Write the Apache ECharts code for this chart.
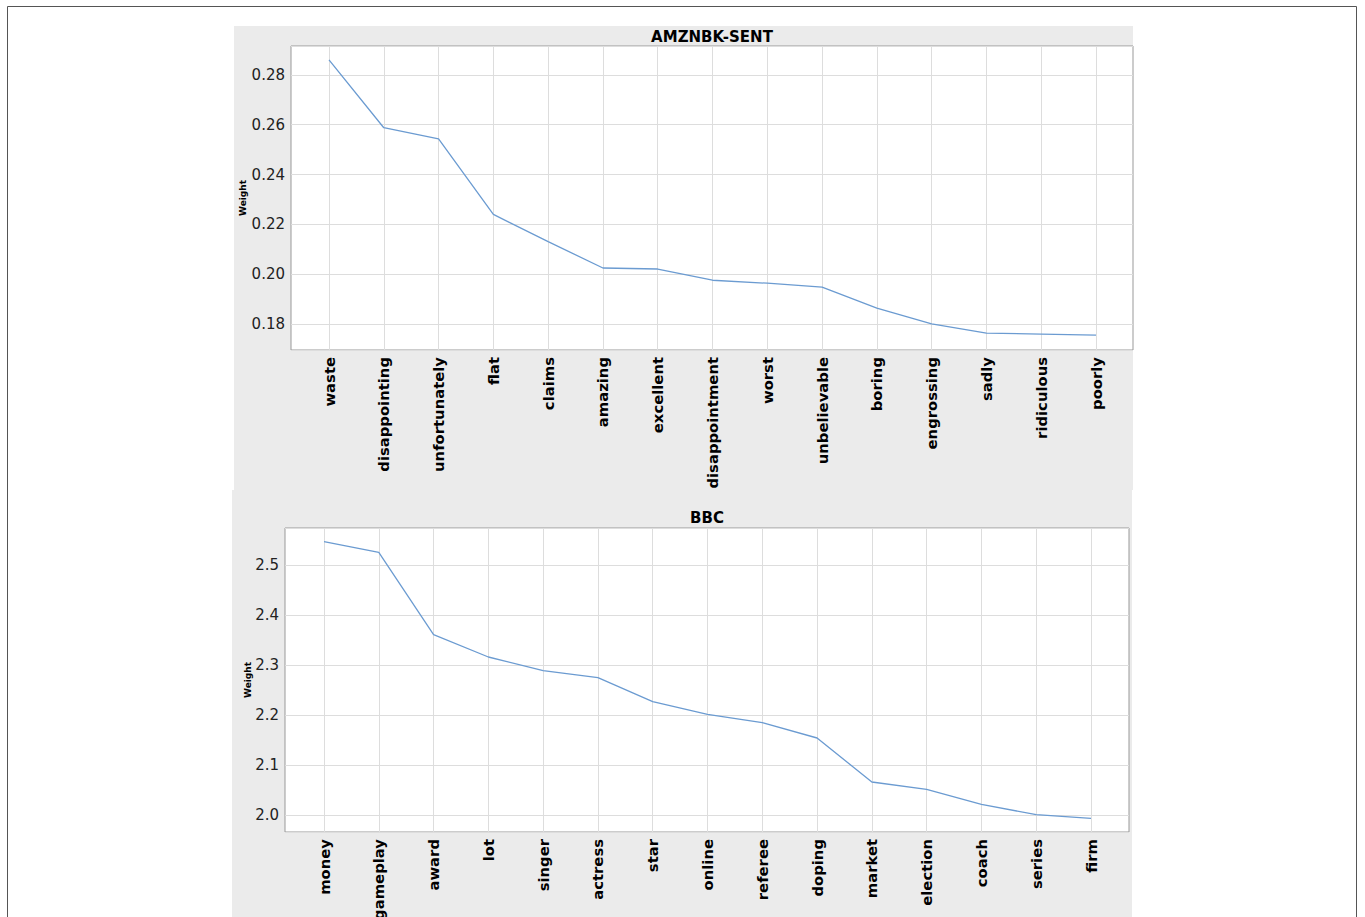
<!DOCTYPE html>
<html>
<head>
<meta charset="utf-8">
<script src="https://cdn.jsdelivr.net/npm/echarts@6/dist/echarts.min.js"></script>
<style>
html,body{margin:0;padding:0;background:#fff;}
#chart{width:1365px;height:917px;}
</style>
</head>
<body>
<div id="chart"></div>
<script>
// ---- data ----
const titleTop = 'AMZNBK-SENT';
const catsTop = ['waste','disappointing','unfortunately','flat','claims','amazing','excellent','disappointment','worst','unbelievable','boring','engrossing','sadly','ridiculous','poorly'];
const valsTop = [0.2860,0.2588,0.2543,0.2240,0.2131,0.2025,0.2021,0.1976,0.1964,0.1948,0.1864,0.1801,0.1764,0.1760,0.1756];
const yRangeTop = [0.1696, 0.2916];

const titleBottom = 'BBC';
const catsBottom = ['money','gameplay','award','lot','singer','actress','star','online','referee','doping','market','election','coach','series','firm'];
const valsBottom = [2.5467,2.5254,2.3607,2.3160,2.2887,2.2747,2.2267,2.2013,2.1847,2.1540,2.0660,2.0513,2.0213,2.0007,1.9933];
const yRangeBottom = [1.966, 2.574];

const yLabel = 'Weight';

// ---- layout ----
const FONT = 'DejaVu Sans';
const LINE = '#6b9bd1';
const GRIDC = '#dddddd';

const panels = [
  {frame:{left:291, top:46, width:842, height:304}, data:{left:329, width:767}, titleY:37, cx:712, dec:2, nameX:243,
   cats:catsTop, vals:valsTop, range:yRangeTop, title:titleTop},
  {frame:{left:285, top:528, width:844, height:304}, data:{left:324, width:767}, titleY:518, cx:707, dec:1, nameX:248,
   cats:catsBottom, vals:valsBottom, range:yRangeBottom, title:titleBottom}
];

const grid = [], xAxis = [], yAxis = [], series = [];
panels.forEach((p, i) => {
  const fi = grid.length;
  grid.push({left:p.frame.left, top:p.frame.top, width:p.frame.width, height:p.frame.height,
    outerBoundsMode:'none', containLabel:false,
    show:true, backgroundColor:'#ffffff', borderColor:'#999999', borderWidth:1, z:0});
  xAxis.push({type:'value', gridIndex:fi, show:false, min:0, max:1});
  yAxis.push({type:'value', gridIndex:fi, min:p.range[0], max:p.range[1],
    axisLine:{show:false}, axisTick:{show:false},
    axisLabel:{show:true, fontFamily:FONT, fontSize:15, color:'#222', margin:6,
      showMinLabel:false, showMaxLabel:false,
      formatter:v => v.toFixed(p.dec)},
    splitLine:{show:true, lineStyle:{color:GRIDC, width:1}}});
  const di = grid.length;
  grid.push({left:p.data.left, top:p.frame.top, width:p.data.width, height:p.frame.height,
    outerBoundsMode:'none', containLabel:false, show:false});
  xAxis.push({type:'category', gridIndex:di, data:p.cats, boundaryGap:false,
    axisLine:{show:false}, axisTick:{show:false},
    axisLabel:{rotate:90, interval:0, margin:7, fontFamily:FONT, fontSize:14.8, fontWeight:'bold', color:'#000'},
    splitLine:{show:true, interval:0, lineStyle:{color:GRIDC, width:1}}});
  yAxis.push({type:'value', gridIndex:di, min:p.range[0], max:p.range[1], show:false, splitLine:{show:false}});
  series.push({type:'line', xAxisIndex:di, yAxisIndex:di, data:p.vals, symbol:'none',
    lineStyle:{color:LINE, width:1.3}, silent:true, z:5});
});

const graphic = [
  {type:'rect', z:-10, shape:{x:234, y:26, width:899, height:464}, style:{fill:'#ebebeb'}},
  {type:'rect', z:-10, shape:{x:232, y:490, width:900, height:440}, style:{fill:'#ebebeb'}},
  {type:'rect', z:100, shape:{x:7.5, y:6.5, width:1349, height:930}, style:{fill:'none', stroke:'#555', lineWidth:1}}
];
panels.forEach(p => {
  graphic.push({type:'text', z:100, x:p.cx, y:p.titleY,
    style:{text:p.title, fontFamily:FONT, fontSize:15, fontWeight:'bold', fill:'#000', align:'center', verticalAlign:'middle'}});
  graphic.push({type:'text', z:100, x:p.nameX, y:p.frame.top + p.frame.height / 2, rotation:Math.PI / 2,
    style:{text:yLabel, fontFamily:FONT, fontSize:9, fontWeight:'bold', fill:'#000', align:'center', verticalAlign:'middle'}});
});

const chart = echarts.init(document.getElementById('chart'), null, {renderer:'svg'});
chart.setOption({
  animation:false,
  backgroundColor:'#ffffff',
  grid, xAxis, yAxis, series, graphic
});
</script>
</body>
</html>
